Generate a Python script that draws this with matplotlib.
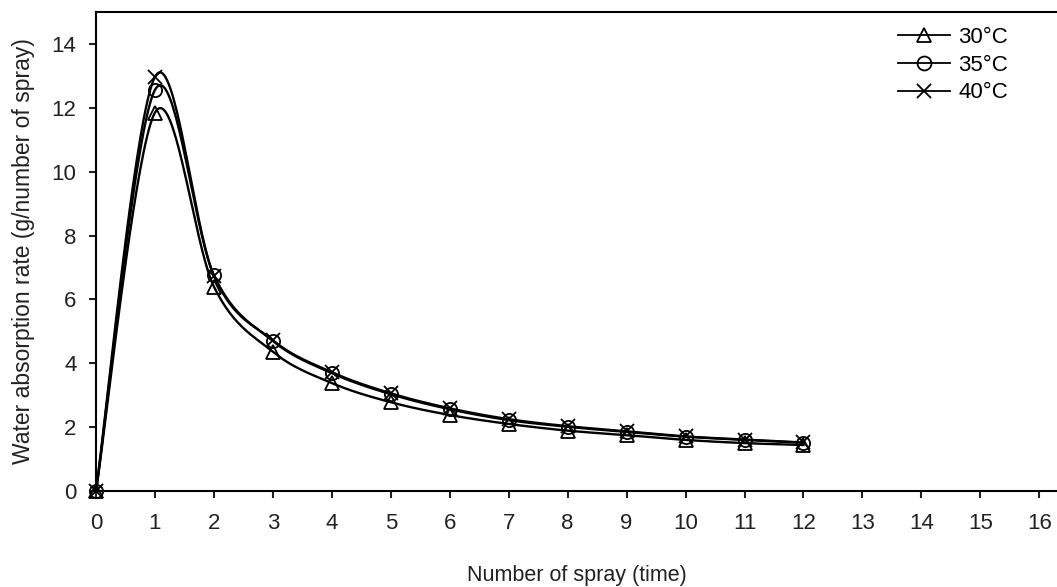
import numpy as np
import matplotlib.pyplot as plt

plt.rcParams['font.family'] = ['Liberation Sans', 'DejaVu Sans']

spray = [0, 1, 2, 3, 4, 5, 6, 7, 8, 9, 10, 11, 12]
rate_30 = [0, 11.85, 6.40, 4.36, 3.38, 2.78, 2.38, 2.10, 1.89, 1.75, 1.60, 1.50, 1.44]
rate_35 = [0, 12.56, 6.76, 4.70, 3.69, 3.03, 2.56, 2.22, 2.01, 1.85, 1.70, 1.60, 1.51]
rate_40 = [0, 12.97, 6.74, 4.72, 3.72, 3.06, 2.59, 2.25, 2.03, 1.87, 1.71, 1.61, 1.52]


def smooth(xs, ys, n=40):
    # excel-like smoothed line (bezier through the points)
    p = np.column_stack([xs, ys]).astype(float)
    p = np.vstack([p[0], p, p[-1]])
    out = []
    t = np.linspace(0, 1, n)[:, None]
    for i in range(1, len(p) - 2):
        p0, p3 = p[i], p[i + 1]
        c1 = p0 + (p[i + 1] - p[i - 1]) / 6
        c2 = p3 - (p[i + 2] - p[i]) / 6
        seg = ((1 - t) ** 3) * p0 + 3 * ((1 - t) ** 2) * t * c1 + 3 * (1 - t) * t ** 2 * c2 + t ** 3 * p3
        out.append(seg)
    out = np.vstack(out)
    return out[:, 0], out[:, 1]


fig = plt.figure(figsize=(10.57, 5.87), dpi=100)
ax = fig.add_axes([96 / 1057, 96 / 587, 961 / 1057, 479 / 587])

series = [(rate_30, '^', '30°C'), (rate_35, 'o', '35°C'), (rate_40, 'x', '40°C')]
for vals, mk, lab in series:
    sx, sy = smooth(spray, vals)
    ax.plot(sx, sy, color='black', lw=1.7)
    ax.plot(spray, vals, linestyle='none', marker=mk, ms=9.5, mfc='none',
            mec='black', mew=1.3, clip_on=False, zorder=5)
    ax.plot([], [], color='black', lw=1.3, marker=mk, ms=10, mfc='none',
            mec='black', mew=1.3, label=lab)

ax.set_xlim(0, 16.3)
ax.set_ylim(0, 15)
ax.set_xticks(range(0, 17))
ax.set_yticks(range(0, 15, 2))
ax.spines['right'].set_visible(False)
for s in ['left', 'bottom', 'top']:
    ax.spines[s].set_linewidth(1.5)
ax.tick_params(direction='out', length=5, width=1.5, labelsize=16, colors='#222222',
               labelcolor='#222222', pad=9)
ax.tick_params(axis='x', pad=11)
ax.set_xlabel('Number of spray (time)', fontsize=15.5, color='#222222', labelpad=22)
ax.set_ylabel('Water absorption rate (g/number of spray)', fontsize=16.5, color='#222222', labelpad=12)

leg = ax.legend(loc='upper left', bbox_to_anchor=(898 / 1057, 1 - 27 / 587),
                bbox_transform=fig.transFigure, frameon=False, fontsize=16,
                handlelength=2.36, handletextpad=0.36, labelspacing=0.3,
                borderpad=0, borderaxespad=0)

fig.savefig('out.png', dpi=100)
